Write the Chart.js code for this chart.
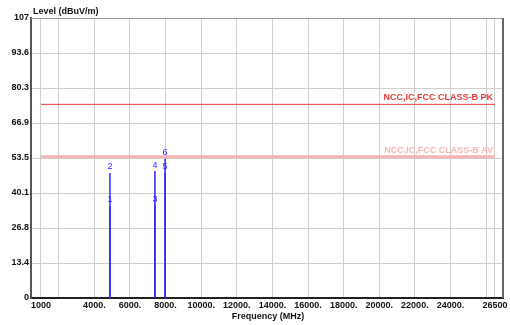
<!DOCTYPE html>
<html>
<head>
<meta charset="utf-8">
<script src="https://cdn.jsdelivr.net/npm/chart.js@4/dist/chart.umd.min.js"></script>
<style>
    html, body { margin: 0; padding: 0; background: #fff; }
</style>
</head>
<body>
<canvas id="emiChart" width="510" height="325"></canvas>
<script>
// axis ticks (frequency in MHz, level in dBuV/m)
const xTicks = [1000, 2000, 4000, 6000, 8000, 10000, 12000, 14000, 16000, 18000, 20000, 22000, 24000, 26000, 26500];
const xTickLabels = ['1000', '', '4000.', '6000.', '8000.', '10000.', '12000.', '14000.', '16000.', '18000.', '20000.', '22000.', '24000.', '', '26500'];
const yTicks = [0, 13.375, 26.75, 40.125, 53.5, 66.875, 80.25, 93.625, 107];
const yTickLabels = ['0', '13.4', '26.8', '40.1', '53.5', '66.9', '80.3', '93.6', '107'];

// measured markers
const markerNo = ['1', '2', '3', '4', '5', '6'];
const markerFreq = [4874, 4874, 7400, 7400, 7970, 7970];
const markerLevel = [35.2, 47.8, 35.5, 48.5, 47.8, 53.2];

// limit lines
const limitNames = ['NCC,IC,FCC CLASS-B PK', 'NCC,IC,FCC CLASS-B AV'];
const limitLevel = [74, 54];
const limitColors = ['#e83a3a', '#f6b4b4'];
const limitWidths = [1, 3];
const limitStart = 1000;
const limitEnd = 26500;

const FONT = "'Liberation Sans', Arial, sans-serif";
const BLUE = '#2a2aff';

const datasets = [];
limitLevel.forEach((lv, i) => {
    datasets.push({
        data: [{ x: limitStart, y: lv }, { x: limitEnd, y: lv }],
        borderColor: limitColors[i],
        borderWidth: limitWidths[i],
        pointRadius: 0,
        showLine: true
    });
});
markerFreq.forEach((f, i) => {
    datasets.push({
        data: [{ x: f, y: 0 }, { x: f, y: markerLevel[i] }],
        borderColor: BLUE,
        borderWidth: 1.5,
        pointRadius: 0,
        showLine: true
    });
});

// labels, titles and the top/right frame
const extras = {
    id: 'extras',
    afterDatasetsDraw(chart) {
        const c = chart.ctx;
        const xs = chart.scales.x, ys = chart.scales.y;
        const a = chart.chartArea;
        c.save();

        // top and right frame
        c.strokeStyle = '#999';
        c.lineWidth = 1;
        c.beginPath();
        c.moveTo(a.left, a.top + 0.5);
        c.lineTo(a.right, a.top + 0.5);
        c.stroke();
        c.strokeStyle = '#666';
        c.lineWidth = 2;
        c.beginPath();
        c.moveTo(a.right, a.top);
        c.lineTo(a.right, a.bottom);
        c.stroke();

        // marker numbers
        c.font = '9px ' + FONT;
        c.fillStyle = BLUE;
        c.textAlign = 'center';
        c.textBaseline = 'middle';
        markerNo.forEach((n, i) => {
            c.fillText(n, xs.getPixelForValue(markerFreq[i]), ys.getPixelForValue(markerLevel[i]) - 6);
        });

        // limit names
        c.font = 'bold 9px ' + FONT;
        c.textAlign = 'right';
        c.textBaseline = 'bottom';
        limitNames.forEach((t, i) => {
            c.fillStyle = limitColors[i];
            c.fillText(t, xs.getPixelForValue(limitEnd) - 2, ys.getPixelForValue(limitLevel[i]) - 2);
        });

        // axis titles
        c.fillStyle = '#111';
        c.textAlign = 'left';
        c.textBaseline = 'middle';
        c.fillText('Level (dBuV/m)', a.left + 2, 12);
        c.textAlign = 'center';
        c.fillText('Frequency (MHz)', 268, 317);
        c.restore();
    }
};

new Chart(document.getElementById('emiChart').getContext('2d'), {
    type: 'scatter',
    data: { datasets: datasets },
    options: {
        responsive: false,
        animation: false,
        layout: { padding: { top: 18, right: 7, left: 0, bottom: 0 } },
        plugins: { legend: { display: false }, tooltip: { enabled: false } },
        scales: {
            x: {
                type: 'linear',
                min: 440,
                max: 26950,
                afterBuildTicks: s => { s.ticks = xTicks.map(v => ({ value: v })); },
                afterFit: s => { s.height = 27; },
                ticks: {
                    autoSkip: false,
                    maxRotation: 0,
                    padding: 2,
                    color: '#111',
                    font: { family: FONT, size: 9, weight: 'bold' },
                    callback: (v, i) => xTickLabels[i]
                },
                grid: { color: '#cfcfcf', drawTicks: false },
                border: { color: '#222', width: 2 }
            },
            y: {
                min: 0,
                max: 107,
                afterBuildTicks: s => { s.ticks = yTicks.map(v => ({ value: v })); },
                afterFit: s => { s.width = 31; },
                ticks: {
                    autoSkip: false,
                    padding: 2,
                    color: '#111',
                    font: { family: FONT, size: 9, weight: 'bold' },
                    callback: (v, i) => yTickLabels[i]
                },
                grid: { color: '#cfcfcf', drawTicks: false },
                border: { color: '#555', width: 2 }
            }
        }
    },
    plugins: [extras]
});
</script>
</body>
</html>
